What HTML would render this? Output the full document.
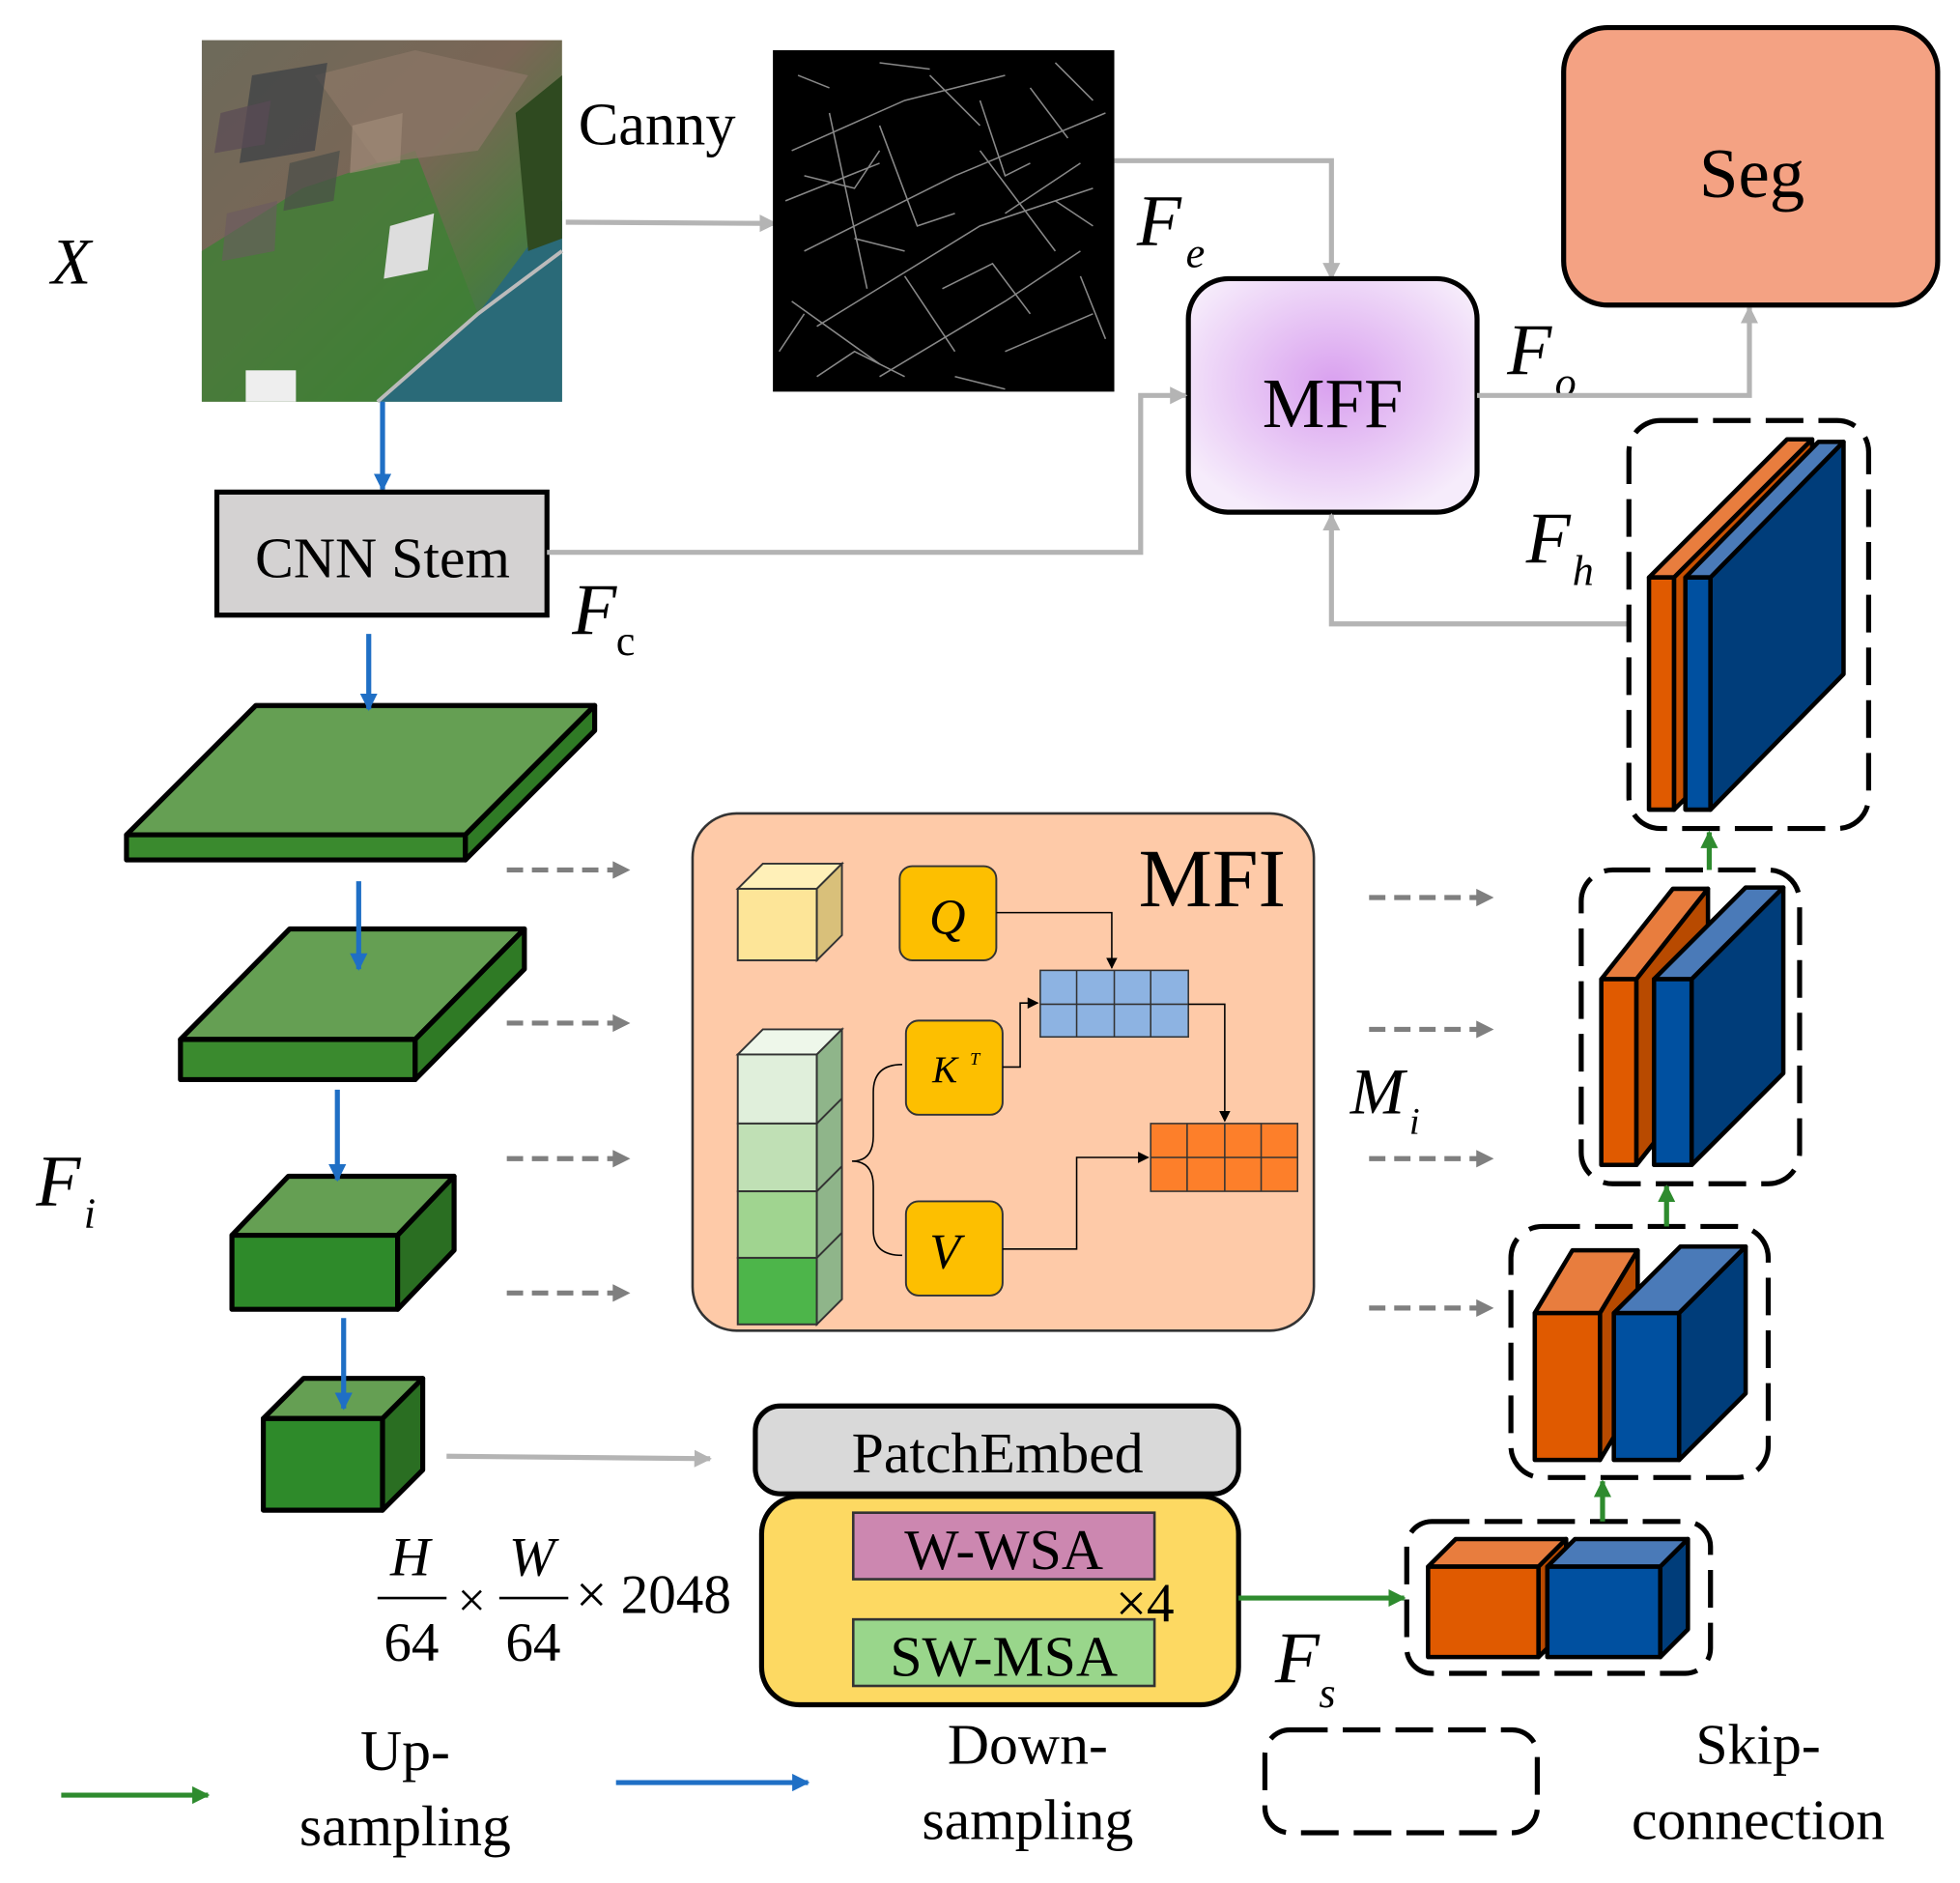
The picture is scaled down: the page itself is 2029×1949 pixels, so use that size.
<!DOCTYPE html>
<html><head><meta charset="utf-8"><style>html,body{margin:0;padding:0;background:#fff}svg{display:block}text{font-family:"Liberation Serif",serif}</style></head><body>
<svg width="2029" height="1949" viewBox="0 0 1560 1500" xmlns="http://www.w3.org/2000/svg">
<defs>
<marker id="agr" viewBox="0 0 10 10" markerWidth="14" markerHeight="14" refX="9" refY="5" orient="auto" markerUnits="userSpaceOnUse"><path d="M0,0 L10,5 L0,10z" fill="#b4b4b4"/></marker>
<marker id="ab" viewBox="0 0 10 10" markerWidth="14" markerHeight="14" refX="9" refY="5" orient="auto" markerUnits="userSpaceOnUse"><path d="M0,0 L10,5 L0,10z" fill="#1f6fc5"/></marker>
<marker id="agn" viewBox="0 0 10 10" markerWidth="14" markerHeight="14" refX="9" refY="5" orient="auto" markerUnits="userSpaceOnUse"><path d="M0,0 L10,5 L0,10z" fill="#2e8b2e"/></marker>
<marker id="ad" viewBox="0 0 10 10" markerWidth="16" markerHeight="14" refX="9" refY="5" orient="auto" markerUnits="userSpaceOnUse"><path d="M0,0 L10,5 L0,10z" fill="#7f7f7f"/></marker>
<marker id="ak" viewBox="0 0 10 10" markerWidth="9" markerHeight="9" refX="9" refY="5" orient="auto" markerUnits="userSpaceOnUse"><path d="M0,0 L10,5 L0,10z" fill="#000"/></marker>
<radialGradient id="mff" cx="50%" cy="45%" r="60%"><stop offset="0" stop-color="#d9a0ef"/><stop offset="1" stop-color="#f6ecfb"/></radialGradient>
<linearGradient id="sat" x1="0" y1="0" x2="1" y2="1"><stop offset="0" stop-color="#6d6a5a"/><stop offset="0.45" stop-color="#7a6656"/><stop offset="0.7" stop-color="#4d7a3e"/><stop offset="1" stop-color="#2f6a6c"/></linearGradient>
</defs>

<text x="40" y="226" font-size="52" font-style="italic">X</text>
<rect x="160" y="32" width="287" height="288" fill="url(#sat)"/>
<polygon points="160,200 240,150 330,120 380,250 300,320 160,320" fill="#3e7f35" opacity="0.8"/>
<polygon points="447,160 447,320 300,320 380,250" fill="#2a6a78"/>
<polygon points="250,60 330,40 420,60 380,120 300,130" fill="#8a7565" opacity="0.8"/>
<polygon points="200,60 260,50 250,120 190,130" fill="#3a3f45" opacity="0.7"/>
<polygon points="175,90 215,80 210,115 170,122" fill="#5a4a55" opacity="0.7"/>
<polygon points="230,130 270,120 265,160 225,168" fill="#4a4e48" opacity="0.7"/>
<polygon points="280,100 320,90 318,130 278,138" fill="#a08a78" opacity="0.7"/>
<polygon points="180,170 220,160 218,200 176,208" fill="#6a5a60" opacity="0.6"/>
<polygon points="310,180 345,170 340,215 305,222" fill="#ddd"/>
<rect x="195" y="295" width="40" height="25" fill="#eee"/>
<polygon points="410,90 447,60 447,190 420,200" fill="#2f4a20"/>
<path d="M300,320 L380,250 L447,200" stroke="#bbb" stroke-width="3" fill="none"/>
<text x="460" y="115" font-size="48">Canny</text>
<line x1="450" y1="177" x2="617" y2="178" stroke="#b4b4b4" stroke-width="4" marker-end="url(#agr)"/>
<rect x="615" y="40" width="272" height="272" fill="#000"/>
<g stroke="#aaa" stroke-width="1.2" fill="none" opacity="0.8">
<path d="M630,120 L720,80 L800,60 M640,200 L760,140 L880,90 M650,260 L780,180 L870,150 M700,300 L800,240 L860,200 M625,160 L700,130 M720,220 L760,280 M780,120 L840,200 M660,90 L690,230 M820,70 L850,110 M740,60 L780,100 M630,240 L700,290 M800,280 L870,250"/>
<path d="M640,140 L680,150 L700,120 M700,100 L730,180 L760,170 M780,80 L800,140 L820,130 M840,160 L870,180 M650,300 L680,280 L720,300 M750,230 L790,210 L820,250 M860,220 L880,270 M635,60 L660,70 M700,50 L740,55 M840,50 L870,80 M760,300 L800,310 M620,280 L640,250 M680,190 L720,200 M800,170 L860,130"/>
</g>
<text x="905" y="195" font-size="58" font-style="italic">F</text><text x="944" y="213" font-size="34" font-style="italic">e</text>
<polyline points="887,128 1060,128 1060,222" fill="none" stroke="#b4b4b4" stroke-width="4" marker-end="url(#agr)"/>
<rect x="946" y="222" width="230" height="186" rx="32" fill="url(#mff)" stroke="#000" stroke-width="4"/>
<text x="1061" y="340" font-size="56" text-anchor="middle">MFF</text>
<text x="1200" y="298" font-size="58" font-style="italic">F</text><text x="1238" y="316" font-size="34" font-style="italic">o</text>
<polyline points="1176,315 1393,315 1393,245" fill="none" stroke="#b4b4b4" stroke-width="4" marker-end="url(#agr)"/>
<rect x="1245" y="22" width="298" height="221" rx="35" fill="#f4a283" stroke="#000" stroke-width="4"/>
<text x="1395" y="157" font-size="56" text-anchor="middle">Seg</text>
<line x1="304" y1="320" x2="304" y2="390" stroke="#1f6fc5" stroke-width="4" marker-end="url(#ab)"/>
<rect x="172" y="392" width="263" height="98" fill="#d4d2d2" stroke="#000" stroke-width="4"/>
<text x="304" y="460" font-size="46" text-anchor="middle">CNN Stem</text>
<text x="455" y="505" font-size="58" font-style="italic">F</text><text x="490" y="522" font-size="34">c</text>
<polyline points="435,440 908,440 908,315 944,315" fill="none" stroke="#b4b4b4" stroke-width="4" marker-end="url(#agr)"/>
<text x="1215" y="448" font-size="58" font-style="italic">F</text><text x="1252" y="466" font-size="34" font-style="italic">h</text>
<polyline points="1297,497 1060,497 1060,410" fill="none" stroke="#b4b4b4" stroke-width="4" marker-end="url(#agr)"/>

<g stroke="#000" stroke-width="4" stroke-linejoin="round">
<polygon points="100,665 203,562 473,562 370,665" fill="#659f53"/>
<rect x="100" y="665" width="270" height="20" fill="#3a8a2e"/>
<polygon points="370,665 473,562 473,582 370,685" fill="#2f7a25"/>
<polygon points="143,828 230,740 417,740 330,828" fill="#659f53"/>
<rect x="143" y="828" width="187" height="32" fill="#3a8a2e"/>
<polygon points="330,828 417,740 417,772 330,860" fill="#2f7a25"/>
<polygon points="184,984 229,937 361,937 316,984" fill="#659f53"/>
<rect x="184" y="984" width="132" height="59" fill="#2e8a2a"/>
<polygon points="316,984 361,937 361,996 316,1043" fill="#2a6e22"/>
<polygon points="209,1130 241,1098 336,1098 304,1130" fill="#659f53"/>
<rect x="209" y="1130" width="95" height="73" fill="#2e8a2a"/>
<polygon points="304,1130 336,1098 336,1171 304,1203" fill="#2a6e22"/>
</g>
<line x1="293" y1="505" x2="293" y2="565" stroke="#1f6fc5" stroke-width="4" marker-end="url(#ab)"/>
<line x1="285" y1="702" x2="285" y2="772" stroke="#1f6fc5" stroke-width="4" marker-end="url(#ab)"/>
<line x1="268" y1="868" x2="268" y2="940" stroke="#1f6fc5" stroke-width="4" marker-end="url(#ab)"/>
<line x1="273" y1="1050" x2="273" y2="1122" stroke="#1f6fc5" stroke-width="4" marker-end="url(#ab)"/>
<text x="28" y="960" font-size="58" font-style="italic">F</text><text x="66" y="978" font-size="34" font-style="italic">i</text>

<g stroke="#7f7f7f" stroke-width="4" stroke-dasharray="13,7" fill="none">
<line x1="403" y1="693" x2="500" y2="693" marker-end="url(#ad)"/>
<line x1="403" y1="815" x2="500" y2="815" marker-end="url(#ad)"/>
<line x1="403" y1="923" x2="500" y2="923" marker-end="url(#ad)"/>
<line x1="403" y1="1030" x2="500" y2="1030" marker-end="url(#ad)"/>
<line x1="1090" y1="715" x2="1188" y2="715" marker-end="url(#ad)"/>
<line x1="1090" y1="820" x2="1188" y2="820" marker-end="url(#ad)"/>
<line x1="1090" y1="923" x2="1188" y2="923" marker-end="url(#ad)"/>
<line x1="1090" y1="1042" x2="1188" y2="1042" marker-end="url(#ad)"/>
</g>

<rect x="551" y="648" width="495" height="412" rx="35" fill="#fecaa8" stroke="#333" stroke-width="2"/>
<text x="965" y="722" font-size="66" text-anchor="middle">MFI</text>
<g stroke="#333" stroke-width="1.5">
<polygon points="587,708 607,688 670,688 650,708" fill="#fff0b8"/>
<rect x="587" y="708" width="63" height="57" fill="#fde598"/>
<polygon points="650,708 670,688 670,745 650,765" fill="#d9c07a"/>
<polygon points="587,840 607,820 670,820 650,840" fill="#eef7ea"/>
<rect x="587" y="840" width="63" height="55" fill="#e0efdb"/>
<rect x="587" y="895" width="63" height="54" fill="#c0e0b5"/>
<rect x="587" y="949" width="63" height="53" fill="#a0d490"/>
<rect x="587" y="1002" width="63" height="53" fill="#4db54a"/>
<polygon points="650,840 670,820 670,1035 650,1055" fill="#8fb58a"/>
<line x1="650" y1="895" x2="670" y2="875"/><line x1="650" y1="949" x2="670" y2="929"/><line x1="650" y1="1002" x2="670" y2="982"/>
</g>
<g stroke="#333" stroke-width="1.5">
<rect x="716" y="690" width="77" height="75" rx="10" fill="#fdbf00"/>
<rect x="721" y="813" width="77" height="75" rx="10" fill="#fdbf00"/>
<rect x="721" y="957" width="77" height="75" rx="10" fill="#fdbf00"/>
</g>
<text x="754" y="744" font-size="40" font-style="italic" text-anchor="middle">Q</text>
<text x="752" y="862" font-size="30" font-style="italic" text-anchor="middle">K</text><text x="772" y="848" font-size="14" font-style="italic">T</text>
<text x="752" y="1010" font-size="40" font-style="italic" text-anchor="middle">V</text>
<g stroke="#333" stroke-width="1.2">
<rect x="828" y="773" width="118" height="53" fill="#8db3e2"/>
<line x1="857" y1="773" x2="857" y2="826"/><line x1="887" y1="773" x2="887" y2="826"/><line x1="916" y1="773" x2="916" y2="826"/><line x1="828" y1="800" x2="946" y2="800"/>
<rect x="916" y="895" width="117" height="54" fill="#fd7f2a"/>
<line x1="945" y1="895" x2="945" y2="949"/><line x1="975" y1="895" x2="975" y2="949"/><line x1="1004" y1="895" x2="1004" y2="949"/><line x1="916" y1="922" x2="1033" y2="922"/>
</g>
<g fill="none" stroke="#000" stroke-width="1.2">
<polyline points="793,727 885,727 885,771" marker-end="url(#ak)"/>
<polyline points="798,850 812,850 812,799 826,799" marker-end="url(#ak)"/>
<polyline points="946,800 975,800 975,893" marker-end="url(#ak)"/>
<polyline points="798,995 857,995 857,922 914,922" marker-end="url(#ak)"/>
<path d="M718,848 Q695,848 695,870 L695,905 Q695,925 678,925 Q695,925 695,945 L695,980 Q695,1000 718,1000"/>
</g>

<line x1="355" y1="1160" x2="565" y2="1162" stroke="#b4b4b4" stroke-width="4" marker-end="url(#agr)"/>
<rect x="601" y="1120" width="385" height="70" rx="20" fill="#d9d9d9" stroke="#000" stroke-width="4"/>
<text x="794" y="1173" font-size="46" text-anchor="middle">PatchEmbed</text>
<rect x="606" y="1192" width="380" height="166" rx="30" fill="#fdd962" stroke="#000" stroke-width="4"/>
<rect x="679" y="1205" width="240" height="53" fill="#cc87b0" stroke="#333" stroke-width="2"/>
<text x="799" y="1250" font-size="46" text-anchor="middle">W-WSA</text>
<rect x="679" y="1290" width="240" height="53" fill="#99d68b" stroke="#333" stroke-width="2"/>
<text x="799" y="1335" font-size="46" text-anchor="middle">SW-MSA</text>
<text x="888" y="1292" font-size="44">×4</text>
<text x="326" y="1255" font-size="44" font-style="italic" text-anchor="middle">H</text>
<line x1="300" y1="1273" x2="355" y2="1273" stroke="#000" stroke-width="2"/>
<text x="327" y="1323" font-size="44" text-anchor="middle">64</text>
<text x="375" y="1288" font-size="40" text-anchor="middle">×</text>
<text x="423" y="1255" font-size="44" font-style="italic" text-anchor="middle">W</text>
<line x1="397" y1="1273" x2="452" y2="1273" stroke="#000" stroke-width="2"/>
<text x="424" y="1323" font-size="44" text-anchor="middle">64</text>
<text x="458" y="1285" font-size="44">× 2048</text>

<line x1="986" y1="1273" x2="1118" y2="1273" stroke="#2e8b2e" stroke-width="4" marker-end="url(#agn)"/>
<text x="1015" y="1340" font-size="58" font-style="italic">F</text><text x="1050" y="1360" font-size="34" font-style="italic">s</text>
<text x="1075" y="887" font-size="52" font-style="italic">M</text><text x="1122" y="903" font-size="30" font-style="italic">i</text>

<g fill="none" stroke="#000" stroke-width="4" stroke-dasharray="30,12">
<rect x="1120" y="1212" width="242" height="121" rx="20"/>
<rect x="1203" y="977" width="205" height="200" rx="25"/>
<rect x="1259" y="693" width="174" height="250" rx="25"/>
<rect x="1297" y="335" width="191" height="325" rx="25"/>
<rect x="1007" y="1378" width="217" height="82" rx="20"/>
</g>
<g stroke="#000" stroke-width="3.5" stroke-linejoin="round">
<polygon points="1137,1248 1159,1226 1247,1226 1225,1248" fill="#e87d3e"/>
<rect x="1137" y="1248" width="88" height="72" fill="#e05a00"/>
<polygon points="1225,1248 1247,1226 1247,1298 1225,1320" fill="#b84a00"/>
<polygon points="1232,1248 1254,1226 1344,1226 1322,1248" fill="#4a7ab8"/>
<rect x="1232" y="1248" width="90" height="72" fill="#0050a0"/>
<polygon points="1322,1248 1344,1226 1344,1298 1322,1320" fill="#003d7a"/>

<polygon points="1222,1046 1252,996 1304,996 1274,1046" fill="#e87d3e"/>
<rect x="1222" y="1046" width="52" height="117" fill="#e05a00"/>
<polygon points="1274,1046 1304,996 1304,1113 1274,1163" fill="#b84a00"/>
<polygon points="1285,1046 1338,993 1390,993 1337,1046" fill="#4a7ab8"/>
<rect x="1285" y="1046" width="52" height="117" fill="#0050a0"/>
<polygon points="1337,1046 1390,993 1390,1110 1337,1163" fill="#003d7a"/>

<polygon points="1275,780 1332,708 1360,708 1303,780" fill="#e87d3e"/>
<rect x="1275" y="780" width="28" height="148" fill="#e05a00"/>
<polygon points="1303,780 1360,708 1360,856 1303,928" fill="#b84a00"/>
<polygon points="1317,780 1390,707 1420,707 1347,780" fill="#4a7ab8"/>
<rect x="1317" y="780" width="30" height="148" fill="#0050a0"/>
<polygon points="1347,780 1420,707 1420,855 1347,928" fill="#003d7a"/>

<polygon points="1313,460 1423,350 1443,350 1333,460" fill="#e87d3e"/>
<rect x="1313" y="460" width="20" height="185" fill="#e05a00"/>
<polygon points="1333,460 1443,350 1443,535 1333,645" fill="#c85000"/>
<polygon points="1342,460 1448,352 1468,352 1362,460" fill="#4a7ab8"/>
<rect x="1342" y="460" width="20" height="185" fill="#0050a0"/>
<polygon points="1362,460 1468,352 1468,537 1362,645" fill="#003d7a"/>
</g>
<g stroke="#2e8b2e" stroke-width="4">
<line x1="1276" y1="1212" x2="1276" y2="1180" marker-end="url(#agn)"/>
<line x1="1327" y1="977" x2="1327" y2="945" marker-end="url(#agn)"/>
<line x1="1361" y1="693" x2="1361" y2="663" marker-end="url(#agn)"/>
</g>

<line x1="48" y1="1430" x2="165" y2="1430" stroke="#2e8b2e" stroke-width="4" marker-end="url(#agn)"/>
<text x="322" y="1410" font-size="46" text-anchor="middle">Up-</text>
<text x="322" y="1470" font-size="46" text-anchor="middle">sampling</text>
<line x1="490" y1="1420" x2="643" y2="1420" stroke="#1f6fc5" stroke-width="4" marker-end="url(#ab)"/>
<text x="818" y="1405" font-size="46" text-anchor="middle">Down-</text>
<text x="818" y="1465" font-size="46" text-anchor="middle">sampling</text>
<text x="1400" y="1405" font-size="46" text-anchor="middle">Skip-</text>
<text x="1400" y="1465" font-size="46" text-anchor="middle">connection</text>
</svg>
</body></html>
